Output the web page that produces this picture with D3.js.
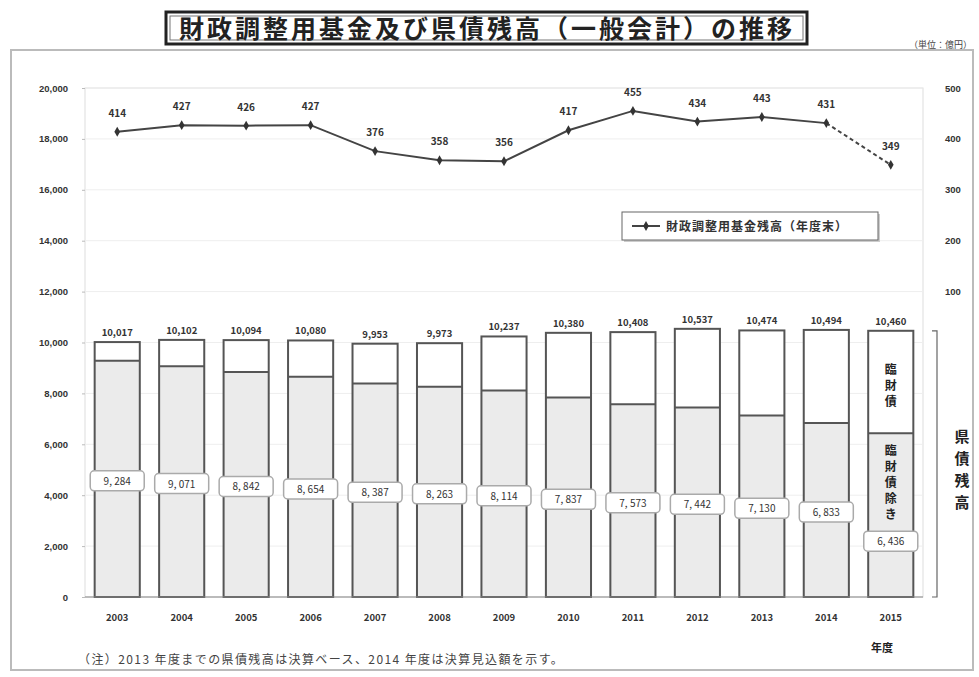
<!DOCTYPE html>
<html>
<head>
<meta charset="utf-8">
<script src="https://cdn.jsdelivr.net/npm/d3@7.9.0/dist/d3.min.js"></script>
<style>
  body { margin: 0; background: #fff; }
  svg { font-family: "Noto Sans CJK JP", "Noto Sans", sans-serif; }
</style>
</head>
<body>
<svg id="chart" width="979" height="677"></svg>
<script>
// data (億円)
const years = ['2003', '2004', '2005', '2006', '2007', '2008', '2009', '2010', '2011', '2012', '2013', '2014', '2015'];
const debtTotal = [10017, 10102, 10094, 10080, 9953, 9973, 10237, 10380, 10408, 10537, 10474, 10494, 10460];
const debtExclRinzai = [9284, 9071, 8842, 8654, 8387, 8263, 8114, 7837, 7573, 7442, 7130, 6833, 6436];
const fundBalance = [414, 427, 426, 427, 376, 358, 356, 417, 455, 434, 443, 431, 349];
const leftTicks = [0, 2000, 4000, 6000, 8000, 10000, 12000, 14000, 16000, 18000, 20000];
const rightTicks = [100, 200, 300, 400, 500];

const svg = d3.select('#chart');
const pLeft = 85, pRight = 923, pTop = 88, pBottom = 597;

const x = d3.scaleBand().domain(years).range([pLeft, pRight]).paddingInner(0.3).paddingOuter(0.15);
const y = d3.scaleLinear().domain([0, 20000]).range([pBottom, pTop]);
const yR = d3.scaleLinear().domain([0, 500]).range([y(10000), pTop]);
const fmt = d3.format(',');
const spaced = v => fmt(v).replace(',', ', ');

// outer frame
svg.append('rect').attr('x', 11).attr('y', 50).attr('width', 962).attr('height', 620)
  .attr('fill', 'none').attr('stroke', '#bbb').attr('stroke-width', 2);

// title
svg.append('rect').attr('x', 166).attr('y', 12).attr('width', 641).attr('height', 32)
  .attr('fill', '#fff').attr('stroke', '#222').attr('stroke-width', 3);
svg.append('rect').attr('x', 170).attr('y', 16).attr('width', 633).attr('height', 24)
  .attr('fill', 'none').attr('stroke', '#777').attr('stroke-width', 1);
svg.append('text').attr('x', 487).attr('y', 38).attr('text-anchor', 'middle')
  .attr('font-size', 25).attr('font-weight', 'bold').attr('letter-spacing', 3).attr('fill', '#222')
  .text('財政調整用基金及び県債残高（一般会計）の推移');
svg.append('text').attr('x', 972).attr('y', 48).attr('text-anchor', 'end')
  .attr('font-size', 9).attr('fill', '#444').text('（単位：億円）');

// plot frame + grid
svg.append('rect').attr('x', pLeft).attr('y', pTop).attr('width', pRight - pLeft).attr('height', pBottom - pTop)
  .attr('fill', 'none').attr('stroke', '#ddd');
svg.append('g').selectAll('line').data(leftTicks.slice(1)).join('line')
  .attr('x1', pLeft).attr('x2', pRight).attr('y1', d => y(d)).attr('y2', d => y(d))
  .attr('stroke', '#eee');

// left axis
const gL = svg.append('g').attr('transform', `translate(${pLeft},0)`)
  .call(d3.axisLeft(y).tickValues(leftTicks).tickFormat(d => fmt(d)).tickSize(3).tickPadding(14));
gL.select('.domain').remove();
gL.selectAll('line').attr('stroke', '#bbb');
gL.selectAll('text').attr('font-size', 9.5).attr('font-weight', 'bold').attr('fill', '#333');

// right axis
const gR = svg.append('g').attr('transform', `translate(${pRight},0)`)
  .call(d3.axisRight(yR).tickValues(rightTicks).tickSize(0).tickPadding(22));
gR.select('.domain').remove();
gR.selectAll('text').attr('font-size', 9.5).attr('font-weight', 'bold').attr('fill', '#333');

// bars: lower part (excl. 臨財債) and upper part (臨財債)
const bars = svg.append('g');
bars.selectAll('rect.low').data(years).join('rect').attr('class', 'low')
  .attr('x', d => x(d)).attr('width', x.bandwidth())
  .attr('y', (d, i) => y(debtExclRinzai[i])).attr('height', (d, i) => pBottom - y(debtExclRinzai[i]))
  .attr('fill', '#ebebeb');
bars.selectAll('rect.high').data(years).join('rect').attr('class', 'high')
  .attr('x', d => x(d)).attr('width', x.bandwidth())
  .attr('y', (d, i) => y(debtTotal[i])).attr('height', (d, i) => y(debtExclRinzai[i]) - y(debtTotal[i]))
  .attr('fill', '#fff');
bars.selectAll('rect.out').data(years).join('rect').attr('class', 'out')
  .attr('x', d => x(d)).attr('width', x.bandwidth())
  .attr('y', (d, i) => y(debtTotal[i])).attr('height', (d, i) => pBottom - y(debtTotal[i]))
  .attr('fill', 'none').attr('stroke', '#555').attr('stroke-width', 2);
bars.selectAll('line.split').data(years).join('line').attr('class', 'split')
  .attr('x1', d => x(d)).attr('x2', d => x(d) + x.bandwidth())
  .attr('y1', (d, i) => y(debtExclRinzai[i])).attr('y2', (d, i) => y(debtExclRinzai[i]))
  .attr('stroke', '#555').attr('stroke-width', 2);

// bar total labels
bars.selectAll('text.tot').data(years).join('text').attr('class', 'tot')
  .attr('x', d => x(d) + x.bandwidth() / 2).attr('y', (d, i) => y(debtTotal[i]) - 6)
  .attr('text-anchor', 'middle').attr('font-size', 9.5).attr('font-weight', 'bold').attr('fill', '#333')
  .text((d, i) => fmt(debtTotal[i]));

// boxed labels for lower part
const last = years.length - 1;
const boxY = (d, i) => i === last ? y(debtExclRinzai[i]) + 108 : (y(debtExclRinzai[i]) + pBottom) / 2 + 2;
const boxes = svg.append('g').selectAll('g').data(years).join('g')
  .attr('transform', (d, i) => `translate(${x(d) + x.bandwidth() / 2},${boxY(d, i)})`);
boxes.append('rect').attr('x', -27).attr('y', -10).attr('width', 54).attr('height', 20).attr('rx', 4)
  .attr('fill', '#fff').attr('stroke', '#aaa').attr('stroke-width', 1.5);
boxes.append('text').attr('y', 4).attr('text-anchor', 'middle').attr('font-size', 10).attr('fill', '#333')
  .text((d, i) => spaced(debtExclRinzai[i]));

// vertical notes in the 2015 bar
const cx = x(years[last]) + x.bandwidth() / 2;
const vtext = (str, y0, step) => svg.append('g').selectAll('text').data(str.split('')).join('text')
  .attr('x', cx).attr('y', (c, k) => y0 + k * step).attr('text-anchor', 'middle')
  .attr('font-size', 12).attr('font-weight', 'bold').attr('fill', '#222').text(c => c);
vtext('臨財債', (y(debtTotal[last]) + y(debtExclRinzai[last])) / 2 - 8, 16);
vtext('臨財債除き', y(debtExclRinzai[last]) + 22, 16);

// bracket 県債残高
const bx = 937;
svg.append('path')
  .attr('d', `M${bx - 5},${y(debtTotal[last])}H${bx}V${pBottom}H${bx - 5}`)
  .attr('fill', 'none').attr('stroke', '#666').attr('stroke-width', 1.2);
svg.append('g').selectAll('text').data('県債残高'.split('')).join('text')
  .attr('x', 962).attr('y', (c, k) => 442 + k * 22).attr('text-anchor', 'middle')
  .attr('font-size', 15).attr('font-weight', 'bold').attr('fill', '#222').text(c => c);

// baseline
svg.append('line').attr('x1', pLeft).attr('x2', pRight).attr('y1', pBottom).attr('y2', pBottom)
  .attr('stroke', '#888');

// fund balance line
const px = d => x(d) + x.bandwidth() / 2;
const line = d3.line().x(d => px(d[0])).y(d => yR(d[1]));
const pts = years.map((d, i) => [d, fundBalance[i]]);
svg.append('path').attr('d', line(pts.slice(0, last)))
  .attr('fill', 'none').attr('stroke', '#444').attr('stroke-width', 2);
svg.append('path').attr('d', line(pts.slice(last - 1)))
  .attr('fill', 'none').attr('stroke', '#444').attr('stroke-width', 2).attr('stroke-dasharray', '4,3');
svg.append('g').selectAll('path').data(pts).join('path')
  .attr('transform', d => `translate(${px(d[0])},${yR(d[1])})`)
  .attr('d', d3.symbol(d3.symbolDiamond, 28)).attr('fill', '#333');
svg.append('g').selectAll('text').data(pts).join('text')
  .attr('x', d => px(d[0])).attr('y', d => yR(d[1]) - 15).attr('text-anchor', 'middle')
  .attr('font-size', 10).attr('font-weight', 'bold').attr('fill', '#333').text(d => d[1]);

// legend
const lg = svg.append('g').attr('transform', 'translate(622,212)');
lg.append('rect').attr('x', 2).attr('y', 2).attr('width', 256).attr('height', 28).attr('fill', '#ccc');
lg.append('rect').attr('width', 256).attr('height', 28).attr('fill', '#fff').attr('stroke', '#666');
lg.append('line').attr('x1', 10).attr('x2', 38).attr('y1', 14).attr('y2', 14).attr('stroke', '#444').attr('stroke-width', 2);
lg.append('path').attr('transform', 'translate(24,14)').attr('d', d3.symbol(d3.symbolDiamond, 28)).attr('fill', '#333');
lg.append('text').attr('x', 44).attr('y', 18.5).attr('font-size', 12).attr('font-weight', 'bold')
  .attr('letter-spacing', 1).attr('fill', '#333').text('財政調整用基金残高（年度末）');

// year labels
svg.append('g').selectAll('text').data(years).join('text')
  .attr('x', d => px(d)).attr('y', 621).attr('text-anchor', 'middle')
  .attr('font-size', 9.5).attr('font-weight', 'bold').attr('fill', '#333').text(d => d);
svg.append('text').attr('x', 882).attr('y', 652).attr('text-anchor', 'middle')
  .attr('font-size', 11).attr('font-weight', 'bold').attr('fill', '#222').text('年度');

// footnote
svg.append('text').attr('x', 78).attr('y', 664).attr('font-size', 12).attr('letter-spacing', 1.4).attr('fill', '#444')
  .text('（注）2013 年度までの県債残高は決算ベース、2014 年度は決算見込額を示す。');
</script>
</body>
</html>
